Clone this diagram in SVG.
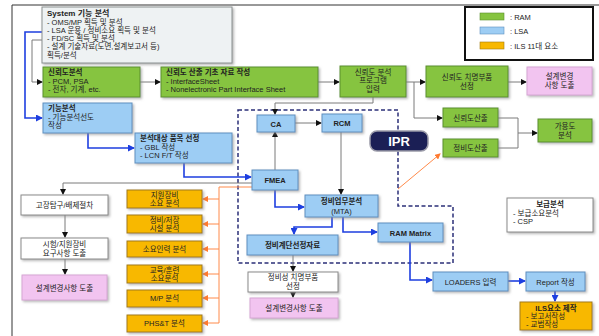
<svg xmlns="http://www.w3.org/2000/svg" width="599" height="336" viewBox="0 0 599 336">
<defs>
<style>
text{font-family:"Liberation Sans","Noto Sans CJK KR",sans-serif;fill:#222;font-size:7.5px}
.b{font-weight:bold}
.c{text-anchor:middle}
.g rect{fill:#86c440;stroke:#5b8f2c;stroke-width:1}
.l rect{fill:#9dcdf4;stroke:#5e8fbf;stroke-width:1}
.o rect{fill:#f8b800;stroke:#a27b10;stroke-width:1}
.p rect{fill:#f2c4f0;stroke:#d6a6d4;stroke-width:1}
.w rect{fill:#ffffff;stroke:#8a8a8a;stroke-width:1}
.s{filter:url(#sh)}
.cg{fill:none;stroke:#7a7a7a;stroke-width:1}
.cb{fill:none;stroke:#1e3fe0;stroke-width:1.6}
.co{fill:none;stroke:#ff8a4a;stroke-width:1}
</style>
<filter id="sh" x="-10%" y="-10%" width="130%" height="140%">
<feDropShadow dx="1.5" dy="1.5" stdDeviation="0.8" flood-color="#888" flood-opacity="0.6"/>
</filter>
<marker id="ak" markerWidth="6" markerHeight="6" refX="5" refY="3" orient="auto" markerUnits="userSpaceOnUse"><path d="M0,0L6,3L0,6z" fill="#111"/></marker>
<marker id="ab" markerWidth="7" markerHeight="7" refX="6" refY="3.5" orient="auto" markerUnits="userSpaceOnUse"><path d="M0,0L7,3.5L0,7z" fill="#1e3fe0"/></marker>
<marker id="ao" markerWidth="6" markerHeight="6" refX="5" refY="3" orient="auto" markerUnits="userSpaceOnUse"><path d="M0,0L6,3L0,6z" fill="#ff7a30"/></marker>
</defs>
<rect width="599" height="336" fill="#fff"/>
<path d="M12,336V5H599" fill="none" stroke="#333" stroke-width="1"/>

<!-- IPR boundary -->
<path d="M238,110H398V206H453V263H238Z" fill="none" stroke="#2b2f78" stroke-width="1.5" stroke-dasharray="4,2.5"/>

<g id="connectors">
<path class="cb" d="M42,32H25V118H42" marker-end="url(#ab)"/>
<path class="cg" d="M42,40H32V82H42" marker-end="url(#ak)"/>
<path class="cg" d="M140,82H160" marker-end="url(#ak)"/>
<path class="cg" d="M318,82H339" marker-end="url(#ak)"/>
<path class="cg" d="M406,82H425" marker-end="url(#ak)"/>
<path class="cg" d="M414,82V118H442" marker-end="url(#ak)"/>
<path class="cg" d="M508,82H526" marker-end="url(#ak)"/>
<path class="cg" d="M498,118H518V148H498M518,133H537" marker-end="url(#ak)"/>
<path class="cg" d="M373,97V103H275V114" marker-end="url(#ak)"/>
<path class="cg" d="M295,123H321" marker-end="url(#ak)"/>
<path class="cg" d="M275,170V132" marker-end="url(#ak)"/>
<path class="cg" d="M341,132V194" marker-end="url(#ak)"/>
<path class="cb" d="M88,133V148H134" marker-end="url(#ab)"/>
<path class="cb" d="M184,163V177H251" marker-end="url(#ab)"/>
<path class="cb" d="M275,190V207H304" marker-end="url(#ab)"/>
<path class="cb" d="M332,217V227H294V234" marker-end="url(#ab)"/>
<path class="cb" d="M343,217V232H377" marker-end="url(#ab)"/>
<path class="cb" d="M410,242V280H432" marker-end="url(#ab)"/>
<path class="cb" d="M508,281H525" marker-end="url(#ab)"/>
<path class="cb" d="M555,291V301" marker-end="url(#ab)"/>
<path class="cg" d="M293,255V271" marker-end="url(#ak)"/>
<path class="cg" d="M293,292V297" marker-end="url(#ak)"/>
<path class="cg" d="M252,183H63V194" marker-end="url(#ak)"/>
<path class="cg" d="M65,215V237" marker-end="url(#ak)"/>
<path class="cg" d="M65,259V274" marker-end="url(#ak)"/>
<path class="co" d="M252,187H219V323"/>
<path class="co" d="M219,199H203" marker-end="url(#ao)"/>
<path class="co" d="M219,224H203" marker-end="url(#ao)"/>
<path class="co" d="M219,249H203" marker-end="url(#ao)"/>
<path class="co" d="M219,274H203" marker-end="url(#ao)"/>
<path class="co" d="M219,298H203" marker-end="url(#ao)"/>
<path class="co" d="M219,323H203" marker-end="url(#ao)"/>
<path class="co" d="M398,189L440,154" marker-end="url(#ao)"/>
</g>

<!-- Legend -->
<g id="legend">
<rect x="465" y="7" width="128" height="53" fill="#fff" stroke="#111" stroke-width="2"/>
<rect x="480" y="13" width="24" height="7" fill="#86c440" stroke="#5b8f2c" stroke-width="0.6"/>
<rect x="480" y="27" width="24" height="7" fill="#9dcdf4" stroke="#5e8fbf" stroke-width="0.6"/>
<rect x="480" y="42" width="24" height="7" fill="#f8b800" stroke="#a27b10" stroke-width="0.6"/>
<text x="510" y="19.5">: RAM</text>
<text x="510" y="33.5">: LSA</text>
<text x="510" y="48.5">: ILS 11대 요소</text>
</g>

<g id="system">
<rect x="42" y="7" width="190" height="56" fill="#eef2f3" stroke="#8a9090" stroke-width="1" class="s"/>
<text x="47" y="16" class="b" style="font-size:8px">System 기능 분석</text>
<text x="47" y="24.5">- OMS/MP 획득 및 분석</text>
<text x="47" y="32.5">- LSA 운용 / 정비소요 획득 및 분석</text>
<text x="47" y="40.5">- FD/SC 획득 및 분석</text>
<text x="47" y="49">- 설계 기술자료(도면,설계보고서 등)</text>
<text x="47" y="57.5">획득/분석</text>
</g>

<g id="rel-analysis" class="g">
<rect x="43" y="67" width="97" height="30" class="s"/>
<text x="48" y="75" class="b">신뢰도분석</text>
<text x="48" y="83.5">- PCM, PSA</text>
<text x="48" y="92">- 전자, 기계, etc.</text>
</g>

<g id="rel-data" class="g">
<rect x="161" y="67" width="157" height="30" class="s"/>
<text x="166" y="75" class="b">신뢰도 산출 기초 자료 작성</text>
<text x="166" y="83.5">- InterfaceSheet</text>
<text x="166" y="92">- Nonelectronic Part Interface Sheet</text>
</g>

<g id="rel-program" class="g">
<rect x="340" y="66" width="66" height="31" class="s"/>
<text x="373" y="75" class="c">신뢰도 분석</text>
<text x="373" y="83" class="c">프로그램</text>
<text x="373" y="91.5" class="c">입력</text>
</g>

<g id="rel-critical" class="g">
<rect x="426" y="66" width="82" height="31" class="s"/>
<text x="467" y="79.5" class="c">신뢰도 치명부품</text>
<text x="467" y="88.5" class="c">선정</text>
</g>

<g id="design-change-1" class="p">
<rect x="527" y="67" width="65" height="28" class="s"/>
<text x="559.5" y="78.5" class="c">설계변경</text>
<text x="559.5" y="88" class="c">사항 도출</text>
</g>

<g id="rel-calc" class="g">
<rect x="443" y="108" width="55" height="19" class="s"/>
<text x="470.5" y="120.5" class="c">신뢰도산출</text>
</g>

<g id="maint-calc" class="g">
<rect x="443" y="139" width="55" height="18" class="s"/>
<text x="470.5" y="151" class="c">정비도산출</text>
</g>

<g id="availability" class="g">
<rect x="538" y="119" width="54" height="23" class="s"/>
<text x="565" y="128.5" class="c">가용도</text>
<text x="565" y="138" class="c">분석</text>
</g>

<g id="ipr">
<rect x="370" y="131" width="58" height="20" rx="7" fill="#1b1f55" stroke="#9a9aa8" stroke-width="1.5"/>
<text x="399" y="146" class="c b" style="font-size:13px;fill:#fff">IPR</text>
</g>

<g id="func-analysis" class="l">
<rect x="43" y="103" width="89" height="30" class="s"/>
<text x="48" y="111" class="b">기능분석</text>
<text x="48" y="119.5">- 기능분석선도</text>
<text x="48" y="128">작성</text>
</g>

<g id="item-select" class="l">
<rect x="135" y="133" width="97" height="30" class="s"/>
<text x="140" y="141" class="b">분석대상 품목 선정</text>
<text x="140" y="149.5">- GBL 작성</text>
<text x="140" y="158">- LCN F/T 작성</text>
</g>

<g id="ca" class="l">
<rect x="257" y="115" width="38" height="17" class="s"/>
<text x="276" y="126.5" class="c b">CA</text>
</g>

<g id="rcm" class="l">
<rect x="322" y="114" width="40" height="18" class="s"/>
<text x="342" y="126" class="c b">RCM</text>
</g>

<g id="fmea" class="l">
<rect x="252" y="170" width="46" height="20" class="s"/>
<text x="275" y="183" class="c b">FMEA</text>
</g>

<g id="mta" class="l">
<rect x="305" y="195" width="73" height="22" class="s"/>
<text x="341.5" y="204" class="c b">정비업무분석</text>
<text x="341.5" y="213.5" class="c">(MTA)</text>
</g>

<g id="maint-level" class="l">
<rect x="247" y="235" width="91" height="20" class="s"/>
<text x="292.5" y="248" class="c b">정비계단선정자료</text>
</g>

<g id="ram-matrix" class="l">
<rect x="378" y="223" width="65" height="19" class="s"/>
<text x="410.5" y="235.5" class="c b">RAM Matrix</text>
</g>

<g id="maint-critical" class="w">
<rect x="248" y="272" width="90" height="20" class="s"/>
<text x="293" y="280" class="c">정비성 치명부품</text>
<text x="293" y="289" class="c">선정</text>
</g>

<g id="design-change-2" class="p">
<rect x="250" y="298" width="88" height="20" class="s"/>
<text x="294" y="311" class="c">설계변경사항 도출</text>
</g>

<g id="loaders" class="l">
<rect x="433" y="272" width="75" height="19" class="s"/>
<text x="470.5" y="284.5" class="c">LOADERS 입력</text>
</g>

<g id="report" class="l">
<rect x="526" y="272" width="59" height="19" class="s"/>
<text x="555.5" y="284.5" class="c">Report 작성</text>
</g>

<g id="ils-make" class="o">
<rect x="520" y="302" width="72" height="28" class="s"/>
<text x="556" y="310.5" class="c b">ILS요소 제작</text>
<text x="526" y="318.5">- 보고서작성</text>
<text x="526" y="326.5">- 교범작성</text>
</g>

<g id="supply" class="w">
<rect x="507" y="198" width="86" height="34" class="s"/>
<text x="550" y="207" class="c b">보급분석</text>
<text x="513" y="215.5">- 보급소요분석</text>
<text x="513" y="224">- CSP</text>
</g>

<g id="fault" class="w">
<rect x="21" y="195" width="87" height="20" class="s"/>
<text x="64.5" y="208" class="c">고장탐구/배제절차</text>
</g>

<g id="test-equip" class="w">
<rect x="21" y="238" width="87" height="21" class="s"/>
<text x="64.5" y="246.5" class="c">시험/지원장비</text>
<text x="64.5" y="255.5" class="c">요구사항 도출</text>
</g>

<g id="design-change-3" class="p">
<rect x="22" y="275" width="85" height="25" class="s"/>
<text x="64.5" y="290.5" class="c">설계변경사항 도출</text>
</g>

<g id="o1" class="o"><rect x="127" y="190" width="75" height="18" class="s"/><text x="164.5" y="197.5" class="c">지원장비</text><text x="164.5" y="205.5" class="c">소요 분석</text></g>
<g id="o2" class="o"><rect x="127" y="215" width="75" height="18" class="s"/><text x="164.5" y="222.5" class="c">정비/저장</text><text x="164.5" y="230.5" class="c">시설 분석</text></g>
<g id="o3" class="o"><rect x="127" y="241" width="75" height="16" class="s"/><text x="164.5" y="251.5" class="c">소요인력 분석</text></g>
<g id="o4" class="o"><rect x="127" y="265" width="75" height="18" class="s"/><text x="164.5" y="272.5" class="c">교육/훈련</text><text x="164.5" y="280.5" class="c">소요분석</text></g>
<g id="o5" class="o"><rect x="127" y="290" width="75" height="17" class="s"/><text x="164.5" y="301" class="c">M/P 분석</text></g>
<g id="o6" class="o"><rect x="127" y="315" width="75" height="17" class="s"/><text x="164.5" y="326" class="c">PHS&amp;T 분석</text></g>
</svg>
